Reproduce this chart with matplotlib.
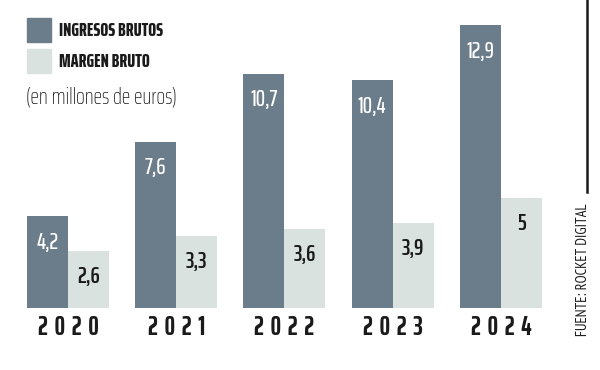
import numpy as np
import matplotlib.pyplot as plt

years = ["2020", "2021", "2022", "2023", "2024"]
ingresos = [4.2, 7.6, 10.7, 10.4, 12.9]
margen = [2.6, 3.3, 3.6, 3.9, 5]
ingresos_lbl = ["4,2", "7,6", "10,7", "10,4", "12,9"]
margen_lbl = ["2,6", "3,3", "3,6", "3,9", "5"]

dark = "#6b7d8a"
light = "#d9e2de"
cond = ["Saira ExtraCondensed", "DejaVu Sans"]
narrow = ["PT Sans Narrow", "DejaVu Sans"]
ink = "#1a1a1a"

fig = plt.figure(figsize=(6, 3.7), dpi=100)
ax = fig.add_axes([0, 0, 1, 1])
ax.set_xlim(-0.628, 4.915)
ax.set_ylim(-2.83, 14.06)
ax.axis("off")

x = np.arange(len(years))
w = 0.379
ax.bar(x - w / 2, ingresos, w, color=dark)
ax.bar(x + w / 2, margen, w, color=light)

# etiquetas dentro de las barras (~26 px bajo el borde superior)
off = 26 / 21.9
for i in x:
    ax.text(i - w / 2, ingresos[i] - off, ingresos_lbl[i], color="white", fontsize=17,
            family=cond, fontweight="medium", ha="center", va="center")
    ax.text(i + w / 2, margen[i] - off, margen_lbl[i], color=ink, fontsize=17,
            family=cond, fontweight="semibold", ha="center", va="center")
    ax.text(i, -0.87, " \u200a".join(years[i]), color=ink, fontsize=19, fontweight="bold",
            family=cond, ha="center", va="center")

# leyenda
fig.patches.append(plt.Rectangle((27 / 600, 1 - 42 / 370), 24 / 600, 24 / 370,
                                 transform=fig.transFigure, color=dark))
fig.patches.append(plt.Rectangle((27 / 600, 1 - 73 / 370), 24 / 600, 24 / 370,
                                 transform=fig.transFigure, color=light))
fig.text(59 / 600, 1 - 31 / 370, "INGRESOS BRUTOS", fontsize=13.5, fontweight="heavy",
         family=cond, color=ink, va="center")
fig.text(59 / 600, 1 - 62 / 370, "MARGEN BRUTO", fontsize=13.5, fontweight="heavy",
         family=cond, color=ink, va="center")
fig.text(26 / 600, 1 - 97 / 370, "(en millones de euros)", fontsize=16.5, fontweight="light",
         family=cond, color=ink, va="center")

# fuente
fig.add_artist(plt.Line2D([587 / 600, 587 / 600], [1, 1 - 192 / 370], color=ink, lw=1.8))
fig.text(583 / 600, 1 - 270 / 370, "FUENTE: ROCKET DIGITAL", fontsize=10.5, rotation=90,
         family=narrow, color=ink, ha="center", va="center")

fig.savefig("out.png", dpi=100)
